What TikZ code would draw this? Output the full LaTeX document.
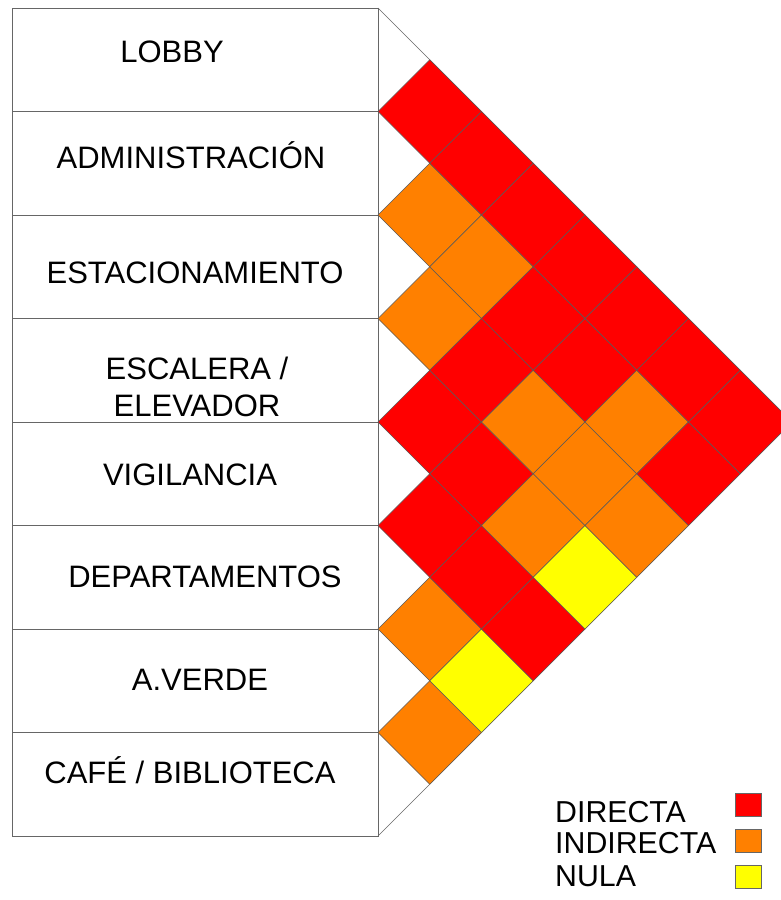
\documentclass[tikz,border=0pt]{standalone}
\usepackage{fontspec}
\setmainfont{Liberation Sans}
\usetikzlibrary{shapes.geometric, positioning}

\definecolor{directa}{HTML}{FF0000}
\definecolor{indirecta}{HTML}{FF8000}
\definecolor{nula}{HTML}{FFFF00}

\begin{document}
\begin{tikzpicture}[x=1pt, y=-1pt]
    % settings for this picture
    \tikzset{
      area/.style={draw=black!60, line width=0.8pt, minimum width=366pt,
        minimum height=103.5pt, inner sep=0pt, outer sep=0pt},
      areatext/.style={font=\fontsize{31}{37}\selectfont, align=center, inner sep=0pt},
      cell/.style={diamond, draw=black!65, line width=0.4pt, minimum width=103.5pt,
        minimum height=103.5pt, inner sep=0pt, outer sep=0pt},
      keybox/.style={draw=black!60, line width=0.6pt, minimum width=26pt,
        minimum height=23pt, inner sep=0pt},
      keytext/.style={font=\fontsize{30.3}{35}\selectfont, inner sep=0pt, anchor=base west},
    }
    \useasboundingbox (0,0) rectangle (780,900);

    % spaces
    \node[area, anchor=north west] (r1) at (12,8) {};
    \node[area, below=0pt of r1] (r2) {};
    \node[area, below=0pt of r2] (r3) {};
    \node[area, below=0pt of r3] (r4) {};
    \node[area, below=0pt of r4] (r5) {};
    \node[area, below=0pt of r5] (r6) {};
    \node[area, below=0pt of r6] (r7) {};
    \node[area, below=0pt of r7] (r8) {};

    \node[areatext, anchor=base] (t1) at (172,62) {LOBBY};
    \node[areatext, anchor=base] (t2) at (191,168) {ADMINISTRACIÓN};
    \node[areatext, anchor=base] (t3) at (195,283) {ESTACIONAMIENTO};
    \node[areatext] (t4) at (197,387) {ESCALERA /\\ELEVADOR};
    \node[areatext, anchor=base] (t5) at (190,485) {VIGILANCIA};
    \node[areatext, anchor=base] (t6) at (205,587) {DEPARTAMENTOS};
    \node[areatext, anchor=base] (t7) at (200,690) {A.VERDE};
    \node[areatext, anchor=base] (t8) at (190,783) {CAFÉ / BIBLIOTECA};

    % outline of the matrix
    \coordinate (apex) at (792,422);
    \draw[black!60, line width=0.6pt] (r1.north east) -- (apex) -- (r8.south east);

    % relations
    \foreach \i/\j/\c in {1/2/directa, 2/3/indirecta, 3/4/indirecta, 4/5/directa,
        5/6/directa, 6/7/indirecta, 7/8/indirecta,
        1/3/directa, 2/4/indirecta, 3/5/directa, 4/6/directa, 5/7/directa, 6/8/nula,
        1/4/directa, 2/5/directa, 3/6/indirecta, 4/7/indirecta, 5/8/directa,
        1/5/directa, 2/6/directa, 3/7/indirecta, 4/8/nula,
        1/6/directa, 2/7/indirecta, 3/8/indirecta,
        1/7/directa, 2/8/directa,
        1/8/directa}
      \node[cell, fill=\c] (c\i\j) at ({378+(\j-\i)*51.75}, {8+(\i+\j-1)*51.75}) {};

    % legend
    \node[keytext] (k1) at (555,822) {DIRECTA};
    \node[keytext] (k2) at (555,853) {INDIRECTA};
    \node[keytext] (k3) at (555,886) {NULA};
    \node[keybox, fill=directa] (b1) at (748,804.5) {};
    \node[keybox, fill=indirecta] (b2) at (748,840.5) {};
    \node[keybox, fill=nula] (b3) at (748,877) {};

\end{tikzpicture}
\end{document}
